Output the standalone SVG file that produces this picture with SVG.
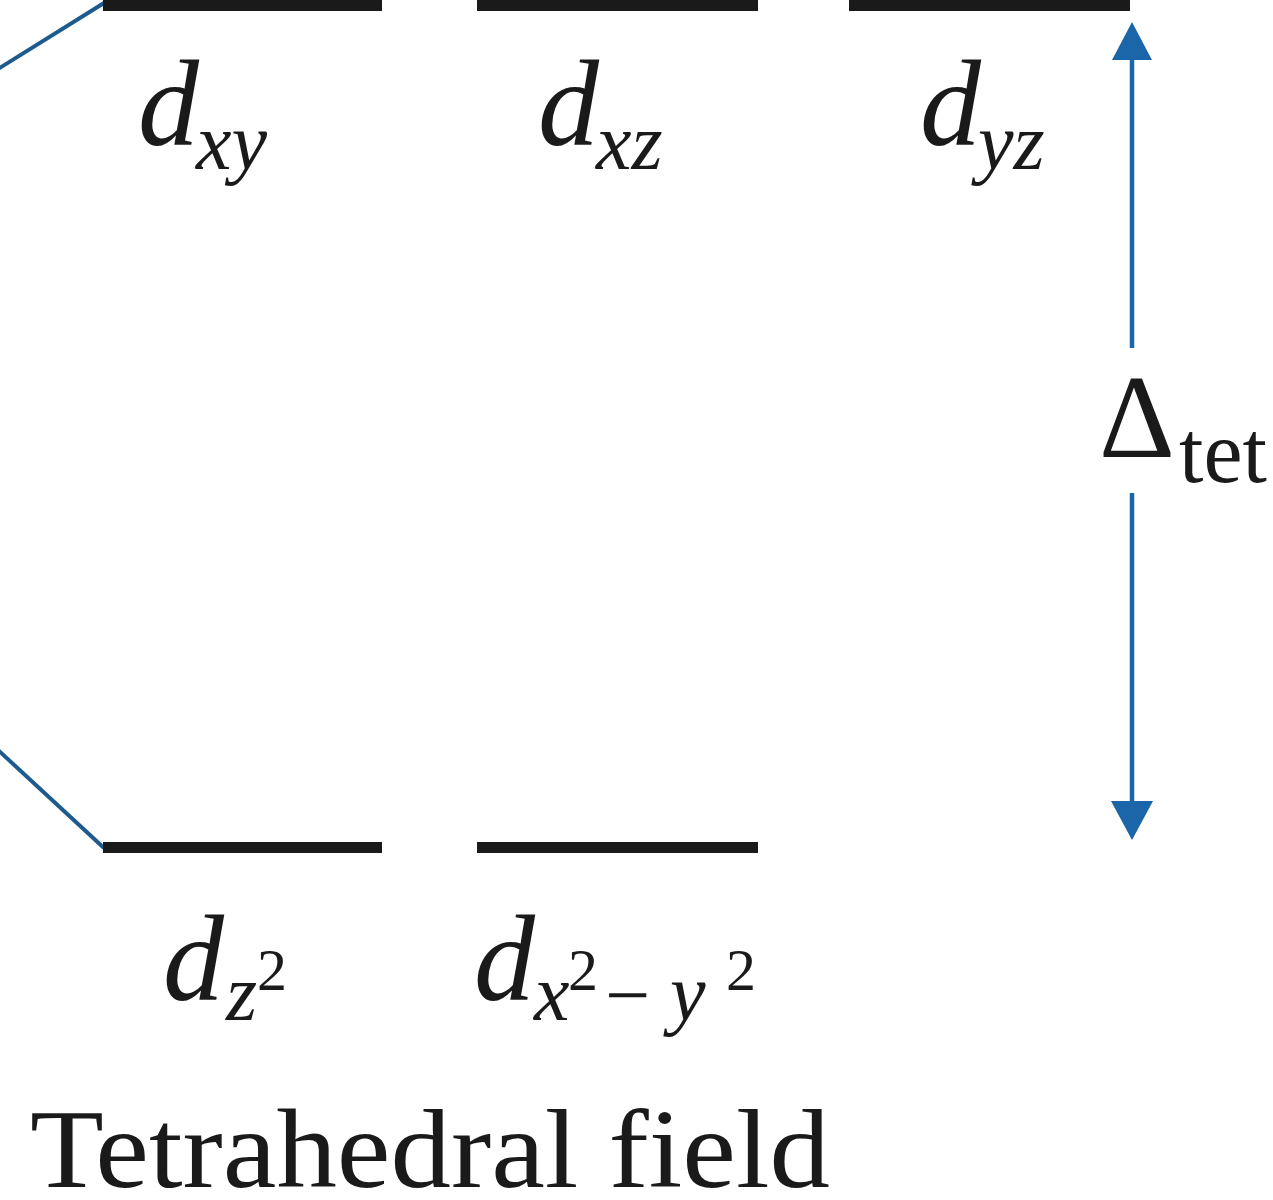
<svg xmlns="http://www.w3.org/2000/svg" width="1273" height="1200" viewBox="0 0 1273 1200">
<style>
.bar{fill:#1a1a1a}
.conn{stroke:#1d5b8f;stroke-width:4;fill:none}
.arr{stroke:#1b66a8;stroke-width:4.5;fill:none}
.head{fill:#1b66a8}
.d{font-family:"Liberation Serif",serif;font-style:italic;font-size:122px;fill:#1a1a1a}
.sub{font-family:"Liberation Serif",serif;font-style:italic;font-size:80px;fill:#1a1a1a}
.sup{font-family:"Liberation Serif",serif;font-size:60px;fill:#1a1a1a}
.lbl{font-family:"Liberation Serif",serif;fill:#1a1a1a}
</style>
<rect width="1273" height="1200" fill="#ffffff"/>
<g id="connectors">
<line class="conn" x1="-2" y1="69" x2="104" y2="3"/>
<line class="conn" x1="-2" y1="750" x2="104" y2="848"/>
<g id="delta-arrow">
<line class="arr" x1="1132" y1="56" x2="1132" y2="348"/>
<line class="arr" x1="1132" y1="493" x2="1132" y2="804"/>
<polygon class="head" points="1132,22 1112,60 1152,60"/>
<polygon class="head" points="1132,840 1111,801 1153,801"/>
</g>
</g>
<g id="dxy">
<rect class="bar" x="103" y="-2" width="279" height="13"/>
<text class="d" x="138" y="145">d</text>
<text class="sub" x="196" y="169">xy</text>
</g>
<g id="dxz">
<rect class="bar" x="477" y="-2" width="281" height="13"/>
<text class="d" x="538" y="145">d</text>
<text class="sub" x="596" y="169">xz</text>
</g>
<g id="dyz">
<rect class="bar" x="849" y="-2" width="281" height="13"/>
<text class="d" x="920" y="145">d</text>
<text class="sub" x="978" y="169">yz</text>
</g>
<g id="dz2">
<rect class="bar" x="103" y="842" width="279" height="11"/>
<text class="d" x="163" y="1000">d</text>
<text class="sub" x="226" y="1020">z</text>
<text class="sup" x="257" y="990">2</text>
</g>
<g id="dx2y2">
<rect class="bar" x="477" y="842" width="281" height="11"/>
<text class="d" x="474" y="1000">d</text>
<text class="sub" x="534" y="1020">x</text>
<text class="sup" x="568" y="990">2</text>
<text class="sub" x="600" y="1022" font-style="normal" font-size="116">−</text>
<text class="sub" x="670" y="1020">y</text>
<text class="sup" x="726" y="990">2</text>
</g>
<g id="delta-label">
<text class="lbl" x="1099" y="457" font-size="118">Δ</text>
<text class="lbl" x="1179" y="482" font-size="88">tet</text>
</g>
<g id="title">
<text class="lbl" x="30" y="1187" font-size="112" textLength="800" lengthAdjust="spacingAndGlyphs">Tetrahedral field</text>
</g>
</svg>
